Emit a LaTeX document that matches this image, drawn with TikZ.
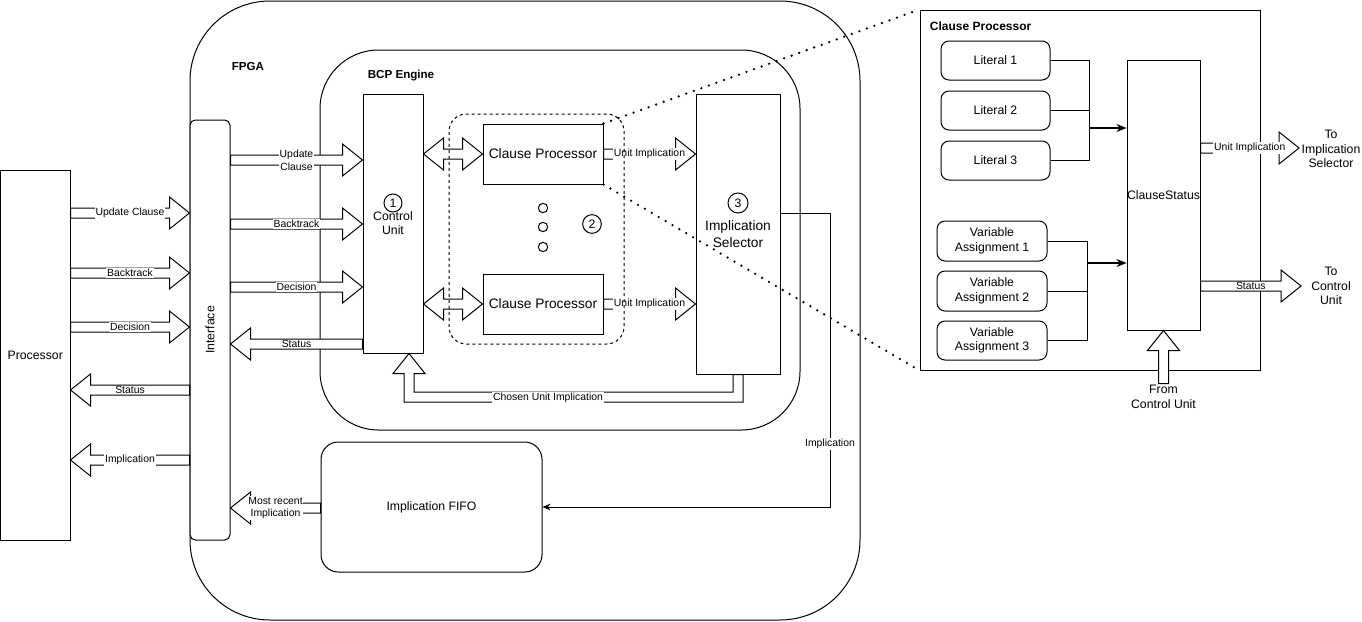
\documentclass[tikz,border=0pt]{standalone}
\usepackage{fontspec}
\setmainfont{Liberation Sans}
\usetikzlibrary{calc,arrows.meta}
\newcommand{\arrSW}{3.75pt}
\newcommand{\arrHW}{12pt}
\newcommand{\arrHL}{15pt}
\newcommand{\mainf}{\fontsize{9.2pt}{10.8pt}\selectfont}
\newcommand{\cuf}{\fontsize{9.2pt}{10.5pt}\selectfont}
\newcommand{\cpf}{\fontsize{10.3pt}{12.75pt}\selectfont}
\newcommand{\lblf}{\fontsize{7.8pt}{9.6pt}\selectfont}
\newcommand{\titf}{\fontsize{8.7pt}{10pt}\selectfont\bfseries}
\tikzset{
  box/.style={draw, fill=white, inner sep=1pt, align=center, font=\mainf},
  blk/.style={draw, fill=white, line join=miter},
  lbl/.style={fill=white, inner sep=0.6pt, align=center, font=\lblf},
  titlelbl/.style={font=\titf},
  num/.style={circle, draw, fill=white, inner sep=0pt, minimum size=13.5pt, font=\mainf},
  conn/.style={-{Stealth[length=6pt,width=5pt]}},
  bconn/.style={line width=1.1pt,-{Stealth[length=7.5pt,width=6pt]}},
  dotline/.style={line width=1.9pt, line cap=round, dash pattern=on 0pt off 6pt},
  grpline/.style={dash pattern=on 2.25pt off 2.25pt}
}
% box node from pixel corners
\newcommand{\BoxNode}[7][]{\node[box,#1,minimum width={(#5-#3)*0.75pt},minimum height={(#6-#4)*0.75pt}] (#2) at ({(#3+#5)/2},{(#4+#6)/2}) {#7};}
% right-pointing block arrow from #1.east to #2.west at pixel y #3
\newcommand{\rarr}[4]{%
  \coordinate (ty) at (0,#3);
  \draw[blk] let \p1=(#1.east |- ty), \p2=(#2.west |- ty) in
    (\x1,\y1+\arrSW) -- (\x2-\arrHL,\y1+\arrSW) -- (\x2-\arrHL,\y1+\arrHW) -- (\x2,\y1)
    -- (\x2-\arrHL,\y1-\arrHW) -- (\x2-\arrHL,\y1-\arrSW) -- (\x1,\y1-\arrSW) -- cycle;
  \node[lbl] at ($(#1.east |- ty)!0.5!(#2.west |- ty)$) {#4};
}
% left-pointing block arrow from #1.west to #2.east
\newcommand{\larr}[4]{%
  \coordinate (ty) at (0,#3);
  \draw[blk] let \p1=(#1.west |- ty), \p2=(#2.east |- ty) in
    (\x1,\y1+\arrSW) -- (\x2+\arrHL,\y1+\arrSW) -- (\x2+\arrHL,\y1+\arrHW) -- (\x2,\y1)
    -- (\x2+\arrHL,\y1-\arrHW) -- (\x2+\arrHL,\y1-\arrSW) -- (\x1,\y1-\arrSW) -- cycle;
  \node[lbl] at ($(#1.west |- ty)!0.5!(#2.east |- ty)$) {#4};
}
% double block arrow between #1.east and #2.west
\newcommand{\darr}[3]{%
  \coordinate (ty) at (0,#3);
  \draw[blk] let \p1=(#1.east |- ty), \p2=(#2.west |- ty) in
    (\x1,\y1) -- (\x1+\arrHL,\y1+\arrHW) -- (\x1+\arrHL,\y1+\arrSW) -- (\x2-\arrHL,\y1+\arrSW)
    -- (\x2-\arrHL,\y1+\arrHW) -- (\x2,\y1) -- (\x2-\arrHL,\y1-\arrHW) -- (\x2-\arrHL,\y1-\arrSW)
    -- (\x1+\arrHL,\y1-\arrSW) -- (\x1+\arrHL,\y1-\arrHW) -- cycle;
}
\begin{document}
\begin{tikzpicture}[x=0.75pt,y=-0.75pt,line width=0.75pt]
\useasboundingbox (0,0) rectangle (1362,621);

% containers
\BoxNode[rounded corners=60pt]{fpga}{190}{1}{860}{620}{}
\node[titlelbl] (fpgat) at (248,67) {FPGA};
\BoxNode[rounded corners=44pt]{bcp}{320}{50}{800}{430}{}
\node[titlelbl] (bcpt) at (401,76) {BCP Engine};
\BoxNode{proc}{0.5}{170}{70}{540}{Processor}
\BoxNode[rounded corners=4pt]{iface}{190}{120}{230}{540}{}
\node[rotate=90,font=\mainf] (ifacet) at (iface.center) {Interface};

% BCP engine parts
\BoxNode[font=\cuf]{cu}{363}{94}{423}{353}{Control\\Unit}
\node[num] (n1) at ($(cu.center)+(0,-20.5)$) {1};
\BoxNode[font=\cpf]{sel}{696}{94}{780}{374}{Implication\\Selector}
\node[num, minimum size=15pt] (n3) at ($(sel.center)+(0,-31)$) {3};
\BoxNode[font=\cpf]{cpa}{483}{124}{603}{184}{Clause Processor}
\BoxNode[font=\cpf]{cpb}{483}{274}{603}{334}{Clause Processor}
\foreach \i/\yy in {1/208,2/227,3/247}
  \node[circle, draw, minimum size=7pt, inner sep=0pt] (dot\i) at (543,\yy) {};
\node[num, minimum size=14pt] (n2) at (592,224) {2};
\BoxNode[rounded corners=13pt]{fifo}{321}{442}{542}{572}{Implication FIFO}

% processor <-> interface
\rarr{proc}{iface}{213}{Update Clause}
\rarr{proc}{iface}{273}{Backtrack}
\rarr{proc}{iface}{327}{Decision}
\larr{iface}{proc}{390}{Status}
\larr{iface}{proc}{460}{Implication}

% interface <-> control unit
\rarr{iface}{cu}{160}{Update\\Clause}
\rarr{iface}{cu}{224}{Backtrack}
\rarr{iface}{cu}{287}{Decision}
\larr{cu}{iface}{344}{Status}
\larr{fifo}{iface}{508}{Most recent\\Implication}

% control unit <-> clause processors
\darr{cu}{cpa}{154}
\darr{cu}{cpb}{304}
\rarr{cpa}{sel}{154}{Unit Implication}
\rarr{cpb}{sel}{304}{Unit Implication}

% chosen unit implication (bent block arrow)
\coordinate (cb) at (409,397);
\draw[blk] let \p1=(sel.south), \p2=(cu.south), \p3=(cb) in
  (\x1-\arrSW,\y1) -- (\x1-\arrSW,\y3+\arrSW) -- (\x3+\arrSW,\y3+\arrSW) -- (\x3+\arrSW,\y2-\arrHL)
  -- (\x3+\arrHW,\y2-\arrHL) -- (\x3,\y2) -- (\x3-\arrHW,\y2-\arrHL) -- (\x3-\arrSW,\y2-\arrHL)
  -- (\x3-\arrSW,\y3-\arrSW) -- (\x1+\arrSW,\y3-\arrSW) -- (\x1+\arrSW,\y1) -- cycle;
\node[lbl] (chosen) at ($(cb)+(139,1)$) {Chosen Unit Implication};

% implication to FIFO
\coordinate (ib) at (830,213);
\draw[conn] (sel.east |- ib) -- (ib) |- (fifo.east);
\node[lbl] (impl) at ($(ib)+(0,231)$) {Implication};

% dashed group
\BoxNode[grpline, fill=none, rounded corners=13pt]{grp}{449}{114}{624}{344}{}

% detail view
\BoxNode{det}{920}{10}{1260}{370}{}
\node[font=\fontsize{9pt}{10pt}\selectfont\bfseries, anchor=west] (dett) at (925,26) {Clause Processor};
\BoxNode[rounded corners=6pt]{lit1}{941}{41}{1050}{80}{Literal 1}
\BoxNode[rounded corners=6pt]{lit2}{941}{91}{1050}{130}{Literal 2}
\BoxNode[rounded corners=6pt]{lit3}{941}{141}{1050}{180}{Literal 3}
\BoxNode[rounded corners=6pt]{va1}{937}{221}{1047}{261}{Variable\\Assignment 1}
\BoxNode[rounded corners=6pt]{va2}{937}{271}{1047}{311}{Variable\\Assignment 2}
\BoxNode[rounded corners=6pt]{va3}{937}{321}{1047}{360}{Variable\\Assignment 3}
\BoxNode[inner sep=0pt]{cs}{1127}{60}{1200}{330}{ClauseStatus}

\coordinate (lb) at (1089,128);
\draw (lit1.east) -| (lb);
\draw (lit3.east) -| (lb);
\draw (lit2.east) -- (lit2.east -| lb);
\draw[bconn] (lb) -- (cs.west |- lb);
\coordinate (vb) at (1087,263);
\draw (va1.east) -| (vb);
\draw (va3.east) -| (vb);
\draw (va2.east) -- (va2.east -| vb);
\draw[bconn] (vb) -- (cs.west |- vb);

\coordinate (tipIS) at (1299,148);
\coordinate (tipCU) at (1301,286);
\rarr{cs}{tipIS}{148}{Unit Implication}
\rarr{cs}{tipCU}{286}{Status}
\node[font=\mainf, align=center, inner sep=1pt] (toIS) at (1331,149) {To\\Implication\\Selector};
\node[font=\mainf, align=center, inner sep=1pt] (toCU) at (1331,286) {To\\Control\\Unit};
\node[font=\mainf, align=center, inner sep=1pt, anchor=north] (fromCU) at ($(cs.south)+(0,53)$) {From\\Control Unit};
\draw[blk] let \p1=(fromCU.north), \p2=(cs.south) in
  (\x2-\arrSW,\y1) -- (\x2-\arrSW,\y2-\arrHL) -- (\x2-\arrHW,\y2-\arrHL) -- (\x2,\y2)
  -- (\x2+\arrHW,\y2-\arrHL) -- (\x2+\arrSW,\y2-\arrHL) -- (\x2+\arrSW,\y1) -- cycle;

% zoom lines
\draw[dotline] (cpa.north east) -- (det.north west);
\draw[dotline] (cpa.south east) -- (det.south west);
\end{tikzpicture}
\end{document}
